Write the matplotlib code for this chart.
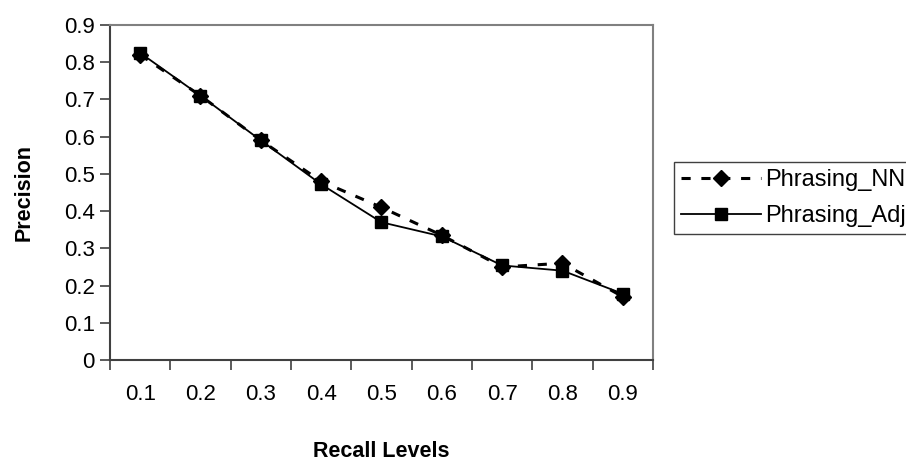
import numpy as np
import matplotlib
matplotlib.use('Agg')
import matplotlib.pyplot as plt

# recall levels on the category axis
recall_levels = ['0.1', '0.2', '0.3', '0.4', '0.5', '0.6', '0.7', '0.8', '0.9']

# precision values
precision_nn = [0.82, 0.71, 0.59, 0.48, 0.41, 0.335, 0.25, 0.26, 0.17]
precision_adj = [0.825, 0.71, 0.59, 0.472, 0.37, 0.332, 0.254, 0.24, 0.178]

y_ticks = [0, 0.1, 0.2, 0.3, 0.4, 0.5, 0.6, 0.7, 0.8, 0.9]
y_tick_labels = ['0', '0.1', '0.2', '0.3', '0.4', '0.5', '0.6', '0.7', '0.8', '0.9']

plt.rcParams['font.family'] = ['Liberation Sans', 'DejaVu Sans']

fig = plt.figure(figsize=(9.06, 4.62), dpi=100)
# axes box in pixels: left 110, right 653, top 25, bottom 360
ax = fig.add_axes([110 / 906, 1 - 360 / 462, 543 / 906, 335 / 462])

# categories sit in the middle of each slot, like an excel category axis
x = np.arange(len(recall_levels)) + 0.5

ax.plot(x, precision_nn, color='black', linewidth=2.2, dashes=(3, 3.5),
        marker='D', markersize=8.5, label='Phrasing_NN')
ax.plot(x, precision_adj, color='black', linewidth=1.3, linestyle='-',
        marker='s', markersize=9, label='Phrasing_Adj')

ax.set_xlim(0, len(recall_levels))
ax.set_ylim(0, 0.9)

# major ticks on slot boundaries, labels on the minor ticks
ax.set_xticks(np.arange(len(recall_levels) + 1))
ax.set_xticklabels([])
ax.set_xticks(x, minor=True)
ax.set_xticklabels(recall_levels, minor=True, fontsize=16)
ax.tick_params(axis='x', which='major', direction='out', length=7, width=1.2,
               color='#404040')
ax.tick_params(axis='x', which='minor', length=0, pad=17)

ax.set_yticks(y_ticks)
ax.set_yticklabels(y_tick_labels, fontsize=16)
ax.tick_params(axis='y', direction='out', length=7, width=1.2, color='#404040',
               pad=4)

for side in ['top', 'right']:
    ax.spines[side].set_color('#808080')
    ax.spines[side].set_linewidth(1.5)
for side in ['left', 'bottom']:
    ax.spines[side].set_color('#404040')
    ax.spines[side].set_linewidth(1.5)

ax.set_xlabel('Recall Levels', fontsize=15.5, fontweight='bold', labelpad=26)
ax.set_ylabel('Precision', fontsize=15.5, fontweight='bold', labelpad=21)

# legend runs off the right edge of the picture, as in the original
leg = fig.legend(loc='upper left', bbox_to_anchor=(674 / 906, 1 - 162 / 462),
                 fontsize=17, handlelength=3.4, handletextpad=0.15,
                 borderpad=0.3, labelspacing=0.6, borderaxespad=0,
                 fancybox=False, framealpha=1, edgecolor='#404040')
leg.get_frame().set_linewidth(1.0)

fig.savefig('out.png', dpi=100)
